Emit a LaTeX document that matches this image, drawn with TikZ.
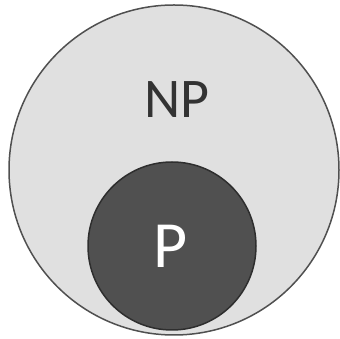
\documentclass[tikz,border=0pt]{standalone}
\usepackage{fontspec}
\setmainfont{Carlito}
\definecolor{outerfill}{HTML}{E0E0E0}
\definecolor{outerline}{HTML}{505050}
\definecolor{innerfill}{HTML}{505050}
\definecolor{innerline}{HTML}{2E2E2E}
\definecolor{nptext}{HTML}{333333}
\begin{document}
\begin{tikzpicture}[x=1pt,y=1pt,
  setbig/.style={circle,draw=outerline,fill=outerfill,line width=1.5pt,minimum size=330pt,inner sep=0pt},
  setsmall/.style={circle,draw=innerline,fill=innerfill,line width=1.5pt,minimum size=168pt,inner sep=0pt},
  lbl/.style={inner sep=0pt,font=\fontsize{56}{60}\selectfont}]
\useasboundingbox (0,0) rectangle (340,339);
\node[setbig] (np) at (174,169) {};
\node[setsmall] (p) at (172,93) {};
\node[lbl,text=nptext] (nplabel) at (177,239) {NP};
\node[lbl,text=white,font=\fontsize{66}{70}\selectfont] (plabel) at (171,93) {P};
\end{tikzpicture}
\end{document}
